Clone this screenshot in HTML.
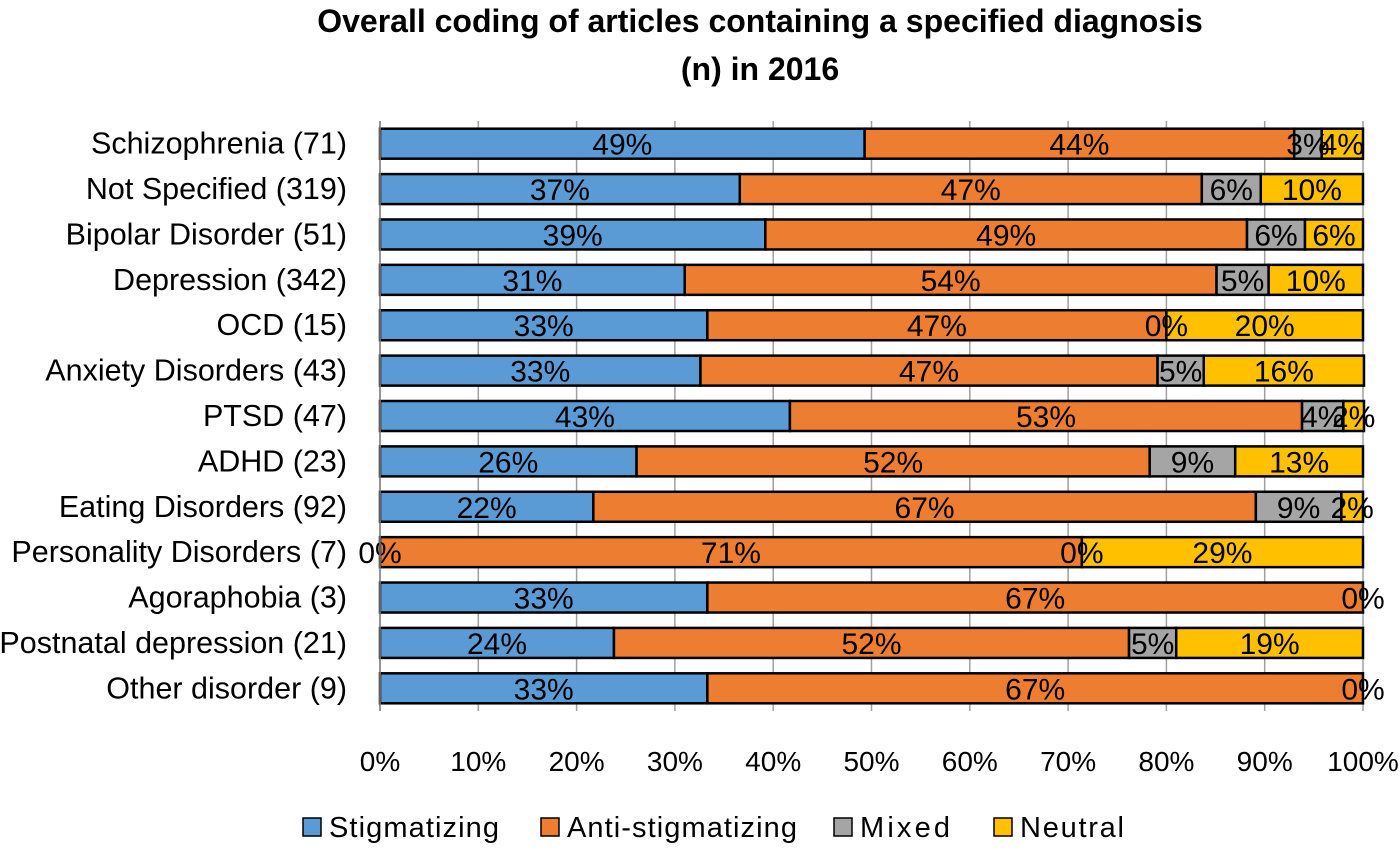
<!DOCTYPE html>
<html><head><meta charset="utf-8"><style>
body{margin:0;background:#fff;}
svg text{font-family:"Liberation Sans",sans-serif;}
</style></head><body>
<svg id="chart" width="1400" height="845">
<text x="760" y="32" text-anchor="middle" font-size="32" font-weight="bold">Overall coding of articles containing a specified diagnosis</text>
<text x="760" y="80" text-anchor="middle" font-size="32" font-weight="bold">(n) in 2016</text>
<g id="grid"></g><g id="bars"></g><g id="axes"></g>
<g>
<rect x="303" y="818" width="18" height="18" fill="#5B9BD5" stroke="#000" stroke-width="1.5"/>
<text x="329" y="837" font-size="29" textLength="170">Stigmatizing</text>
<rect x="541" y="818" width="18" height="18" fill="#ED7D31" stroke="#000" stroke-width="1.5"/>
<text x="567" y="837" font-size="29" textLength="230">Anti-stigmatizing</text>
<rect x="834" y="818" width="18" height="18" fill="#A5A5A5" stroke="#000" stroke-width="1.5"/>
<text x="860" y="837" font-size="29" textLength="90">Mixed</text>
<rect x="994" y="818" width="18" height="18" fill="#FFC000" stroke="#000" stroke-width="1.5"/>
<text x="1020" y="837" font-size="29" textLength="104">Neutral</text>
</g>
</svg>
<script>
const categories=["Schizophrenia (71)","Not Specified (319)","Bipolar Disorder (51)","Depression (342)","OCD (15)","Anxiety Disorders (43)","PTSD (47)","ADHD (23)","Eating Disorders (92)","Personality Disorders (7)","Agoraphobia (3)","Postnatal depression (21)","Other disorder (9)"];
const stigmatizing=[49.3,36.6,39.2,31.0,33.3,32.6,41.7,26.1,21.7,0,33.3,23.8,33.3];
const antiStigmatizing=[43.7,47.0,49.0,54.1,46.7,46.5,52.1,52.2,67.4,71.4,66.7,52.4,66.7];
const mixed=[2.8,6.0,5.9,5.3,0,4.7,4.2,8.7,8.7,0,0,4.8,0];
const neutral=[4.2,10.4,5.9,9.6,20.0,16.3,2.1,13.0,2.2,28.6,0,19.0,0];
const stigLabels=["49%","37%","39%","31%","33%","33%","43%","26%","22%","0%","33%","24%","33%"];
const antiLabels=["44%","47%","49%","54%","47%","47%","53%","52%","67%","71%","67%","52%","67%"];
const mixedLabels=["3%","6%","6%","5%","0%","5%","4%","9%","9%","0%","","5%",""];
const neutralLabels=["4%","10%","6%","10%","20%","16%","2%","13%","2%","29%","0%","19%","0%"];
const ticks=[0,10,20,30,40,50,60,70,80,90,100];

const NS="http://www.w3.org/2000/svg";
const x0=380,x1=1363,top0=121,bot=711;
const step=(bot-top0)/categories.length, bh=30;
const xs=v=>x0+(x1-x0)*v/100;
const yc=i=>top0+step*(i+0.5);
function mk(tag,attrs,parent){const e=document.createElementNS(NS,tag);for(const k in attrs)e.setAttribute(k,attrs[k]);parent.appendChild(e);return e;}
const grid=document.getElementById('grid'),bars=document.getElementById('bars'),axes=document.getElementById('axes');
ticks.forEach(t=>{
  const l=mk('line',{x1:xs(t),x2:xs(t),y1:top0,y2:bot,stroke:'#A0A0A0','stroke-width':1.5},grid);
  
  
  const tx=mk('text',{x:xs(t),y:771,'text-anchor':'middle','font-size':28},axes);
  tx.textContent=t+'%';
  
  
});
const ax=mk('line',{x1:x0,x2:x0,y1:top0,y2:bot,stroke:'#808080','stroke-width':1.5},axes);


const series=[[stigmatizing,stigLabels,'#5B9BD5','stigmatizing'],[antiStigmatizing,antiLabels,'#ED7D31','anti-stigmatizing'],[mixed,mixedLabels,'#A5A5A5','mixed'],[neutral,neutralLabels,'#FFC000','neutral']];
categories.forEach((c,i)=>{
  const y=yc(i);
  const lt=mk('text',{x:347,y:y+10,'text-anchor':'end','font-size':30.5},axes);
  lt.textContent=c;
  
  
  let acc=0;
  const labels=[];
  series.forEach(([vals,labs,col,nm])=>{
    const v=vals[i];
    if(v>0){
      const r=mk('rect',{x:xs(acc),y:y-bh/2,width:xs(acc+v)-xs(acc),height:bh,fill:col,stroke:'#000','stroke-width':2.5},bars);
      
      
    }
    if(labs[i]) labels.push([xs(acc+v/2),labs[i],nm]);
    acc+=v;
  });
  labels.forEach(([lx,s,nm])=>{
    const t=mk('text',{x:lx,y:y+11,'text-anchor':'middle','font-size':30,fill:'#000'},bars);
    t.textContent=s;
    
    
  });
});
</script>
</body></html>
